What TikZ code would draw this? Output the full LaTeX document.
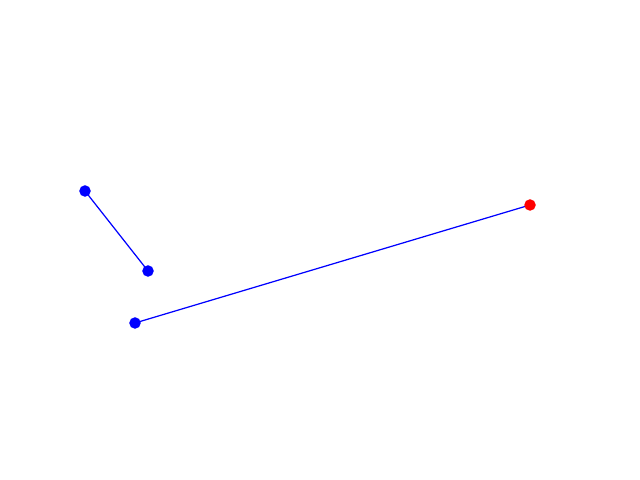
\documentclass[tikz,border=0pt]{standalone}
\usepackage{tikz}

\begin{document}
\begin{tikzpicture}[x=0.01cm,y=-0.01cm]
                    \useasboundingbox (0,0) rectangle (640,480);
                    \coordinate (p1) at (85,191);
                    \coordinate (p2) at (148,271);
                    \coordinate (p3) at (135,323);
                    \coordinate (p4) at (530,205);

                    \draw[blue,line width=0.35pt] (p1) -- (p2);
                    \draw[blue,line width=0.35pt] (p3) -- (p4);

                    \filldraw[blue] (p1) circle (5);
                    \filldraw[blue] (p2) circle (5);
                    \filldraw[blue] (p3) circle (5);
                    \filldraw[red] (p4) circle (5);

                \end{tikzpicture}
\end{document}
